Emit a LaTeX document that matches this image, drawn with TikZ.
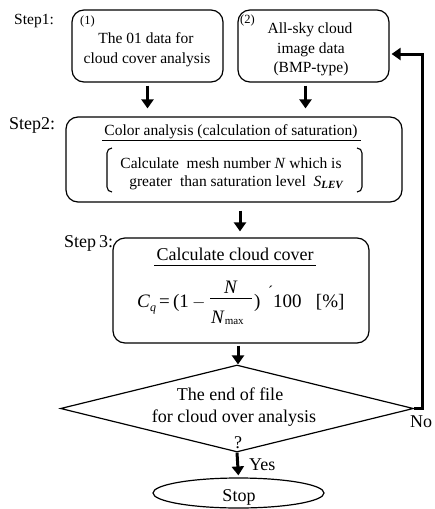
\documentclass[tikz,border=0pt]{standalone}
\usepackage{fontspec}
\setmainfont{Liberation Serif}
\usetikzlibrary{shapes.geometric,arrows.meta}
\begin{document}
\begin{tikzpicture}[x=1pt,y=-1pt,
  box/.style={draw,line width=1.2pt,rounded corners=12pt,inner sep=0pt},
  txt/.style={inner sep=0pt,anchor=base},
  flow/.style={line width=3pt,-{Triangle[length=9pt,width=12pt]}},
  f15/.style={font=\fontsize{15.5}{18}\selectfont},
  f18/.style={font=\fontsize{18}{21}\selectfont}]
\useasboundingbox (0,0) rectangle (434,509);
% Step 1 boxes
\node[box,minimum width=151pt,minimum height=72pt] (b1) at (147.5,46) {};
\node[box,minimum width=151pt,minimum height=72pt] (b2) at (313.5,46) {};
\node[txt,f15,anchor=base west] (s1) at (14,24) {Step1:};
\node[txt,font=\fontsize{12.5}{14}\selectfont,anchor=base west] (n1) at (80,24) {(1)};
\node[txt,f15] (b1a) at (146,43) {The 01 data for};
\node[txt,f15] (b1b) at (147,63) {cloud cover analysis};
\node[txt,font=\fontsize{12.5}{14}\selectfont,anchor=base west] (n2) at (240,23) {(2)};
\node[txt,f15] (b2a) at (310,33) {All-sky cloud};
\node[txt,f15] (b2b) at (311,53) {image data};
\node[txt,f15] (b2c) at (311,72) {(BMP-type)};
% Step 2
\node[box,minimum width=336pt,minimum height=85pt] (s2box) at (234,159.5) {};
\node[txt,f18,anchor=base west] (s2) at (9,129) {Step2:};
\node[txt,f15] (s2t) at (231,135) {Color analysis (calculation of saturation)};
\draw[line width=0.8pt] (102,140) coordinate (u1a) -- (361,140) coordinate (u1b);
\draw[line width=1.1pt] (112,148) coordinate (lbt) to[out=180,in=90] (107,153) -- (107,187) to[out=-90,in=180] (112,192) coordinate (lbb);
\draw[line width=1.1pt] (357,148) coordinate (rbt) to[out=0,in=90] (362,153) -- (362,187) to[out=-90,in=0] (357,192) coordinate (rbb);
\node[txt,f15] (s2l1) at (231,168) {Calculate\ \ mesh number \textit{N} which is};
\node[txt,f15] (s2l2) at (236,186) {greater\ \ than saturation level\ \ \textit{S}\raisebox{-2.5pt}{\fontsize{11}{12}\selectfont\bfseries\itshape LEV}};
% Step 3
\node[box,minimum width=256pt,minimum height=105pt] (s3box) at (241,290.5) {};
\node[txt,f18,anchor=base west] (s3) at (64,247) {Step\,3:};
\node[txt,f18] (s3t) at (235,260) {Calculate cloud cover};
\draw[line width=0.8pt] (154,265) coordinate (u2a) -- (316,265) coordinate (u2b);
\node[txt,font=\fontsize{19}{21}\selectfont,anchor=base west] (fa) at (137,307) {\textit{C}\raisebox{-4pt}{\fontsize{12}{12}\selectfont\itshape q}\,=\,(1\,$-$};
\node[txt,font=\fontsize{19}{21}\selectfont] (fn) at (231,293) {\textit{N}};
\draw[line width=0.9pt] (210,298) coordinate (fba) -- (252,298) coordinate (fbb);
\node[txt,font=\fontsize{19}{21}\selectfont,anchor=base west] (fd) at (211,323) {\textit{N}\raisebox{-1pt}{\fontsize{11}{12}\selectfont max}};
\node[txt,font=\fontsize{19}{21}\selectfont,anchor=base west] (fe) at (254,307) {)};
\node[txt,font=\fontsize{15}{18}\selectfont,anchor=base west] (fx) at (268,296) {´};
\node[txt,font=\fontsize{19}{21}\selectfont,anchor=base west] (ff) at (273,307) {100\ \ \ [\%]};
% Decision
\node[draw,diamond,line width=1.2pt,inner sep=0pt,minimum width=353pt,minimum height=87pt] (dec) at (237,408.5) {};
\node[txt,f18] (d1) at (230,400) {The end of file};
\node[txt,f18] (d2) at (234,422) {for cloud over analysis};
\node[txt,f18] (d3) at (238,448) {?};
% Stop
\node[draw,ellipse,line width=1.2pt,inner sep=0pt,minimum width=171pt,minimum height=30pt] (stop) at (238.5,493) {};
\node[txt,f18] (stopt) at (239,501) {Stop};
\node[txt,f18,anchor=base west] (yes) at (249,470) {Yes};
\node[txt,f18,anchor=base west] (no) at (410,427) {No};
% Arrows
\draw[flow,shorten <=3pt,shorten >=8pt] (b1.south) -- (b1.south |- s2box.north);
\draw[flow,shorten <=3pt,shorten >=8pt] ([xshift=-8pt]b2.south) -- ([xshift=-8pt]b2.south |- s2box.north);
\draw[flow,shorten <=8pt,shorten >=6pt] ([xshift=6pt]s2box.south) -- ([xshift=6pt]s2box.south |- s3box.north);
\draw[flow,shorten <=2pt] ([xshift=-3pt]s3box.south) -- ([xshift=-3pt]s3box.south |- dec.north);
\draw[flow,shorten >=2pt] (dec.south) -- (stop.north);
\draw[flow,line join=miter,shorten >=2pt] (dec.east) -- ++(8,0) |- ([yshift=-8pt]b2.east);
\end{tikzpicture}
\end{document}
